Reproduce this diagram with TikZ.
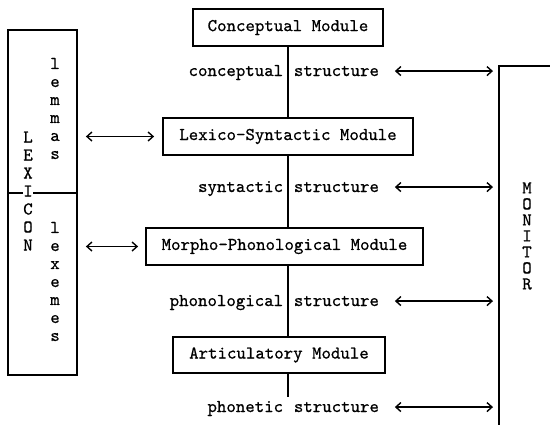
\documentclass[tikz,border=0pt]{standalone}
\usepackage{fontspec}
\usepackage{tikz}
\usetikzlibrary{arrows.meta}

\newfontfamily\modfont{lmmono10-regular.otf}[FakeBold=0.7]

\begin{document}
\begin{tikzpicture}[
    x=1pt, y=-1pt,
    every path/.style={line width=1.8pt},
    every node/.style={font=\modfont\fontsize{18}{18}\selectfont, inner sep=0pt},
    module/.style={draw, minimum height=37pt},
    column/.style={align=center},
    link/.style={line width=1.4pt, {Straight Barb[length=5pt,width=9pt]}-{Straight Barb[length=5pt,width=9pt]}}
]
    \path[use as bounding box] (0,0) rectangle (550,424);

    \node[module, minimum width=190pt] (cm) at (288,27.5) {Conceptual Module};
    \node[module, minimum width=250pt] (lsm) at (288,136.5) {Lexico-Syntactic Module};
    \node[module, minimum width=277pt] (mpm) at (284.5,246.5) {Morpho-Phonological Module};
    \node[module, minimum width=212pt, minimum height=36pt] (am) at (279,355) {Articulatory Module};

    \node[draw, minimum width=69pt, minimum height=345pt] (lex) at (42.5,202.5) {};
    \coordinate (split) at (42.5,193);
    \draw (lex.west |- split) -- (lex.east |- split);
    \node[column, fill=white] (lexname) at (28,191) {L\\E\\X\\I\\C\\O\\N};
    \node[column] (lemmas) at (55,108.5) {l\\e\\m\\m\\a\\s};
    \node[column] (lexemes) at (55,281.5) {l\\e\\x\\e\\m\\e\\s};

    \node[draw, minimum width=80pt, minimum height=380pt, anchor=north west] (mon) at (498,65) {};
    \node[column, font=\modfont\fontsize{18}{16}\selectfont] (montext) at (527,236) {M\\O\\N\\I\\T\\O\\R};

    \node[anchor=base east] (cl) at (284,76) {conceptual};
    \node[anchor=base west] (cr) at (293,76) {structure};
    \node[anchor=base east] (sl) at (284,192) {syntactic};
    \node[anchor=base west] (sr) at (293,192) {structure};
    \node[anchor=base east] (pl) at (284,306) {phonological};
    \node[anchor=base west] (pr) at (293,306) {structure};
    \node[anchor=base east] (tl) at (284,412) {phonetic};
    \node[anchor=base west] (tr) at (293,412) {structure};

    \coordinate (end) at (288,397);
    \draw (cm.south) -- (lsm.north);
    \draw (lsm.south) -- (lsm.south |- mpm.north);
    \draw (lsm.south |- mpm.south) -- (lsm.south |- am.north);
    \draw (lsm.south |- am.south) -- (end);

    \draw[link, shorten <=8pt, shorten >=8pt] (lex.east |- lsm) -- (lsm.west);
    \draw[link, shorten <=8pt, shorten >=7pt] (lex.east |- mpm) -- (mpm.west);

    \draw[link, shorten <=15pt, shorten >=5pt] (cr.east) -- (mon.west |- cr.east);
    \draw[link, shorten <=15pt, shorten >=5pt] (sr.east) -- (mon.west |- sr.east);
    \draw[link, shorten <=15pt, shorten >=5pt] (pr.east) -- (mon.west |- pr.east);
    \draw[link, shorten <=15pt, shorten >=5pt] (tr.east) -- (mon.west |- tr.east);
\end{tikzpicture}
\end{document}
